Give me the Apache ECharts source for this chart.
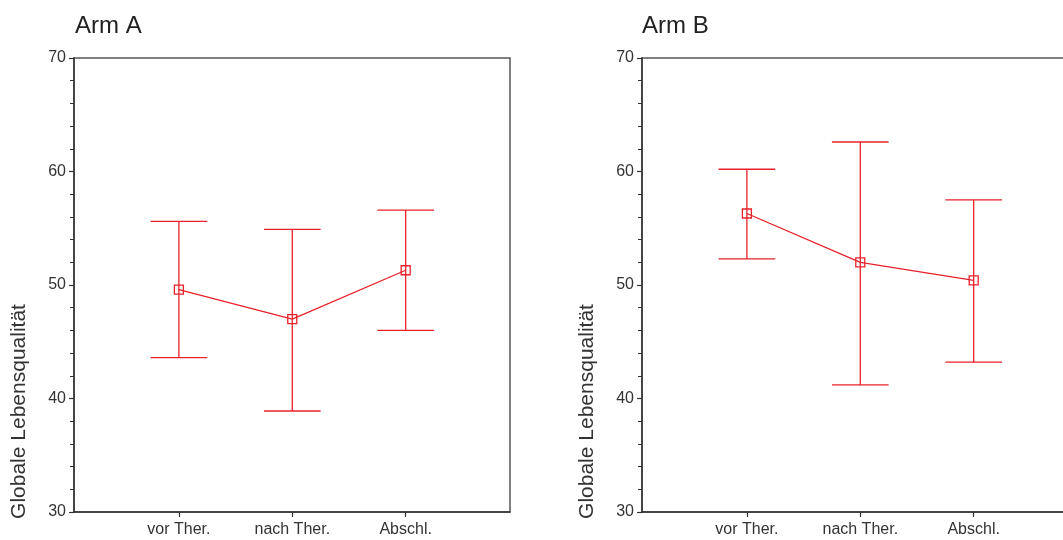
<!DOCTYPE html>
<html>
<head>
<meta charset="utf-8">
<script src="https://cdn.jsdelivr.net/npm/echarts@6/dist/echarts.min.js"></script>
<style>
  html, body { margin: 0; padding: 0; background: #fff; }
  #chart { width: 1063px; height: 540px; }
</style>
</head>
<body>
<div id="chart"></div>
<script>
// Measurement times along the x axis
const categories = ['vor Ther.', 'nach Ther.', 'Abschl.'];
const positions = [1, 2, 3];

// Arm A: mean and interval bounds
const armAMean  = [49.6, 47.0, 51.3];
const armALower = [43.6, 38.9, 46.0];
const armAUpper = [55.6, 54.9, 56.6];

// Arm B: mean and interval bounds
const armBMean  = [56.3, 52.0, 50.4];
const armBLower = [52.3, 41.2, 43.2];
const armBUpper = [60.2, 62.6, 57.5];

// Value axis range
const yMin = 30, yMax = 70, yStep = 10;

const RED = '#e8202a';
const AXIS = '#333';
const FONT = 'Liberation Sans, Arial, sans-serif';
const CAP_HALF = 0.25;
const yTitle = 'Globale Lebensqualität';

const chart = echarts.init(document.getElementById('chart'));

function errorRows(mean, lower, upper) {
  return positions.map((p, i) => [p, lower[i], upper[i], mean[i]]);
}

function renderErrorBar(params, api) {
  const x = api.value(0);
  const lo = api.coord([x, api.value(1)]);
  const hi = api.coord([x, api.value(2)]);
  const m = api.coord([x, api.value(3)]);
  const l = api.coord([x - CAP_HALF, api.value(1)])[0];
  const r = api.coord([x + CAP_HALF, api.value(1)])[0];
  const style = { stroke: RED, lineWidth: 1.3, fill: null };
  return {
    type: 'group',
    children: [
      { type: 'line', shape: { x1: lo[0], y1: lo[1], x2: hi[0], y2: hi[1] }, style },
      { type: 'line', shape: { x1: l, y1: hi[1], x2: r, y2: hi[1] }, style },
      { type: 'line', shape: { x1: l, y1: lo[1], x2: r, y2: lo[1] }, style },
      { type: 'rect', shape: { x: m[0] - 4.5, y: m[1] - 4.5, width: 9, height: 9 }, style }
    ]
  };
}

function xAxisFor(idx) {
  return {
    type: 'value', gridIndex: idx, min: 0.075, max: 3.92,
    axisLine: { show: true, lineStyle: { color: AXIS, width: 1.5 } },
    axisTick: { show: true, length: 5, customValues: positions, lineStyle: { color: AXIS, width: 1.2 } },
    axisLabel: {
      customValues: positions, margin: 10, color: AXIS, fontSize: 16, fontFamily: FONT,
      formatter: v => categories[positions.indexOf(Math.round(v))] || ''
    },
    splitLine: { show: false }
  };
}

function yAxisFor(idx) {
  return {
    type: 'value', gridIndex: idx, min: yMin, max: yMax, interval: yStep,
    axisLine: { show: true, lineStyle: { color: AXIS, width: 1.5 } },
    axisTick: { show: true, length: 5, lineStyle: { color: AXIS, width: 1.2 } },
    minorTick: { show: true, splitNumber: 5, length: 4, lineStyle: { color: AXIS, width: 1 } },
    axisLabel: { margin: 8, color: AXIS, fontSize: 16, fontFamily: FONT },
    splitLine: { show: false }
  };
}

function seriesFor(idx, mean, lower, upper) {
  return [
    {
      type: 'line', xAxisIndex: idx, yAxisIndex: idx,
      data: positions.map((p, i) => [p, mean[i]]),
      symbol: 'none', lineStyle: { color: RED, width: 1.3 }, z: 2
    },
    {
      type: 'custom', xAxisIndex: idx, yAxisIndex: idx,
      data: errorRows(mean, lower, upper),
      renderItem: renderErrorBar, clip: false, z: 3
    }
  ];
}

const gridBase = {
  top: 58, height: 454, width: 436, show: true,
  borderColor: '#555', borderWidth: 1.5, backgroundColor: 'transparent',
  containLabel: false, outerBoundsMode: 'none'
};

const titleStyle = { fontSize: 24, fontWeight: 'normal', color: '#222', fontFamily: FONT };

chart.setOption({
  animation: false,
  backgroundColor: '#fff',
  title: [
    { text: 'Arm A', left: 75, top: 14, padding: 0, textStyle: titleStyle },
    { text: 'Arm B', left: 642, top: 14, padding: 0, textStyle: titleStyle }
  ],
  grid: [
    Object.assign({ left: 74 }, gridBase),
    Object.assign({ left: 642 }, gridBase)
  ],
  xAxis: [xAxisFor(0), xAxisFor(1)],
  yAxis: [yAxisFor(0), yAxisFor(1)],
  series: [].concat(
    seriesFor(0, armAMean, armALower, armAUpper),
    seriesFor(1, armBMean, armBLower, armBUpper)
  ),
  graphic: [
    { type: 'text', x: 19.5, y: 411.5, rotation: Math.PI / 2,
      style: { text: yTitle, fontSize: 21, fontFamily: FONT, fill: '#333', align: 'center', verticalAlign: 'middle', textAlign: 'center', textVerticalAlign: 'middle' } },
    { type: 'text', x: 587.5, y: 411.5, rotation: Math.PI / 2,
      style: { text: yTitle, fontSize: 21, fontFamily: FONT, fill: '#333', align: 'center', verticalAlign: 'middle', textAlign: 'center', textVerticalAlign: 'middle' } }
  ]
});
</script>
</body>
</html>
